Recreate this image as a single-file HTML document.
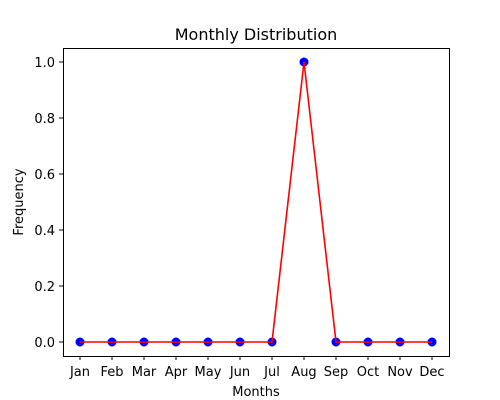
<!DOCTYPE html>
<html><head><meta charset="utf-8"><style>
html,body{margin:0;padding:0;background:#fff}
svg{display:block;font-family:"DejaVu Sans","Liberation Sans",sans-serif}
</style></head><body>
<svg id="chart" width="500" height="400">
<text x="256" y="40" text-anchor="middle" font-size="16">Monthly Distribution</text>
<rect x="63.5" y="48.5" width="386" height="308" fill="none" stroke="#000" stroke-width="1"/>
<g id="xt"></g>
<g id="yt"></g>
<text x="256" y="396" text-anchor="middle" font-size="13">Months</text>
<text transform="translate(23,202) rotate(-90)" text-anchor="middle" font-size="13">Frequency</text>
<g id="series"></g>
</svg>
<script>
const months=["Jan","Feb","Mar","Apr","May","Jun","Jul","Aug","Sep","Oct","Nov","Dec"];
const values=[0,0,0,0,0,0,0,1,0,0,0,0];
const yTicks=[0,0.2,0.4,0.6,0.8,1.0];
const yTickLabels=["0.0","0.2","0.4","0.6","0.8","1.0"];
const NS="http://www.w3.org/2000/svg";
function x(i){return 80+i*32;}
function y(v){return 342-v*280;}
function mk(t,a,p){const e=document.createElementNS(NS,t);for(const k in a)e.setAttribute(k,a[k]);p.appendChild(e);return e;}
const xt=document.getElementById('xt'),yt=document.getElementById('yt'),s=document.getElementById('series');
months.forEach((m,i)=>{
  const l=mk('line',{x1:x(i),x2:x(i),y1:356,y2:360,stroke:'#000'},xt);
  
  
  const t=mk('text',{x:x(i),y:376,'text-anchor':'middle','font-size':13},xt);t.textContent=m;
  
  
});
yTicks.forEach((v,i)=>{
  const l=mk('line',{x1:59,x2:63,y1:y(v),y2:y(v),stroke:'#000'},yt);
  
  
  const t=mk('text',{x:55,y:y(v)+5,'text-anchor':'end','font-size':13},yt);t.textContent=yTickLabels[i];
  
  
});
values.forEach((v,i)=>{
  const c=mk('circle',{cx:x(i),cy:y(v),r:4.5,fill:'#0000ff'},s);
  
  
});
const pl=mk('polyline',{points:values.map((v,i)=>x(i)+','+y(v)).join(' '),fill:'none',stroke:'#ff0000','stroke-width':1.6},s);


</script>
</body></html>
